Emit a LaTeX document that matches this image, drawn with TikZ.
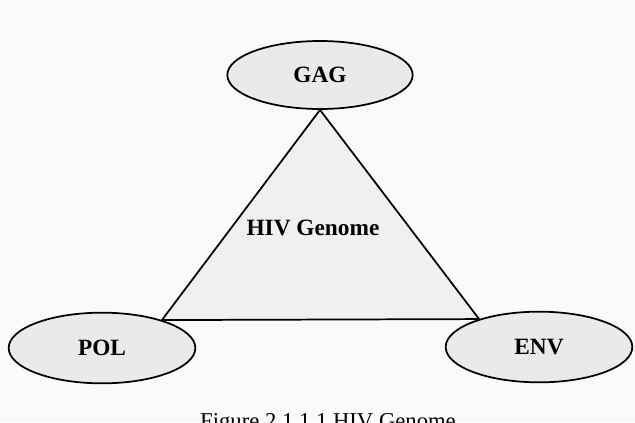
\documentclass[tikz,border=0pt]{standalone}
\usepackage{fontspec}
\setmainfont{Liberation Serif}
\usetikzlibrary{shapes.geometric, backgrounds}
\definecolor{genefill}{RGB}{234, 234, 234}
\definecolor{trifill}{RGB}{240, 240, 240}
\definecolor{pagebg}{RGB}{250, 250, 250}

\tikzset{
    gene/.style={draw, ellipse, line width=1.3pt, fill=genefill, inner sep=0pt,
        minimum width=139pt, minimum height=51pt, font=\fontsize{17.5}{20}\selectfont\bfseries},
}

\begin{document}
\begin{tikzpicture}[x=0.75pt, y=-0.75pt]
    \useasboundingbox (0, 0) rectangle (635, 422);

    % genes
    \node[gene] (gag) at (320, 75) {GAG};
    \node[gene, minimum width=140pt, minimum height=53pt] (pol) at (102, 348) {POL};
    \node[gene, minimum width=140pt, minimum height=53pt] (env) at (539, 347) {ENV};

    % page and genome triangle
    \begin{scope}[on background layer]
        \fill[pagebg] (0, 0) rectangle (635, 422);
        \draw[line width=1.3pt, fill=trifill] (gag.south) -- (pol.25) -- (env.155) -- cycle;
    \end{scope}
    \node[font=\fontsize{17.5}{20}\selectfont\bfseries] (genome) at (313, 228) {HIV Genome};

    % caption
    \node[font=\fontsize{17}{20}\selectfont, anchor=base] (caption) at (328, 428) {Figure 2.1.1.1 HIV Genome};
\end{tikzpicture}
\end{document}
